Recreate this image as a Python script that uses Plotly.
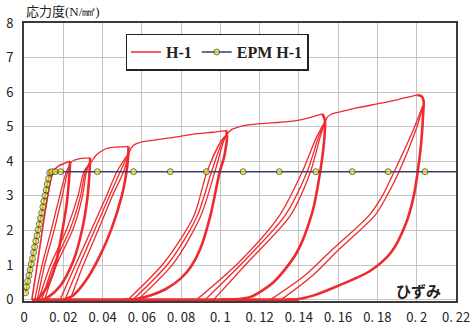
import plotly.graph_objects as go

RED = "#ee2a2e"
NAVY = "#3c3f6b"

# ---- H-1 : skeleton (loading) segments, strain / stress ----
skel_0_x = [0.0040, 0.0062, 0.0088, 0.0115, 0.0138, 0.0155, 0.0175, 0.0205, 0.0235]
skel_0_y = [0.0, 0.8, 1.8, 2.8, 3.5, 3.75, 3.86, 3.94, 4.0]
skel_1_x = [0.0232, 0.0240, 0.0255, 0.0280, 0.0310, 0.0337]
skel_1_y = [3.90, 3.97, 4.03, 4.07, 4.09, 4.10]
skel_2_x = [0.0338, 0.0348, 0.0362, 0.0380, 0.0420, 0.0460, 0.0500, 0.0532]
skel_2_y = [3.95, 4.02, 4.14, 4.24, 4.37, 4.41, 4.42, 4.43]
skel_3_x = [0.0535, 0.0548, 0.0565, 0.0592, 0.0643, 0.0770, 0.0881, 0.0960, 0.1030]
skel_3_y = [4.25, 4.40, 4.49, 4.55, 4.60, 4.70, 4.80, 4.84, 4.89]
skel_4_x = [0.1034, 0.1045, 0.1060, 0.1085, 0.1120, 0.1204, 0.1306, 0.1380, 0.1425, 0.1519]
skel_4_y = [4.78, 4.86, 4.93, 4.98, 5.03, 5.09, 5.13, 5.17, 5.22, 5.37]
skel_5_x = [0.1535, 0.1545, 0.1565, 0.1610, 0.1700, 0.1816, 0.1900, 0.2003]
skel_5_y = [5.15, 5.28, 5.36, 5.43, 5.55, 5.68, 5.78, 5.92]

# ---- H-1 : repeated reloading branches (per amplitude) ----
reload_a_y = [0.0, 1.0, 2.04, 3.0, 3.6, 3.9]
reload_a_x = [[0.0055, 0.0092, 0.0140, 0.0182, 0.0210, 0.0232],
              [0.0068, 0.0105, 0.0155, 0.0195, 0.0218, 0.0232]]
reload_b_y = [0.0, 1.0, 2.04, 3.0, 3.7, 3.95]
reload_b_x = [[0.0075, 0.0135, 0.0218, 0.0275, 0.0305, 0.0335],
              [0.0090, 0.0150, 0.0235, 0.0288, 0.0312, 0.0335],
              [0.0105, 0.0165, 0.0250, 0.0298, 0.0318, 0.0335]]
reload_c_y = [0.0, 1.0, 2.04, 3.0, 3.7, 4.25]
reload_c_x = [[0.0184, 0.0262, 0.0345, 0.0420, 0.0473, 0.0535],
              [0.0209, 0.0282, 0.0362, 0.0435, 0.0490, 0.0535],
              [0.0235, 0.0302, 0.0380, 0.0450, 0.0507, 0.0535]]
reload_d_y = [0.0, 1.08, 2.42, 3.7, 4.6, 4.78]
reload_d_x = [[0.0530, 0.0715, 0.0865, 0.0932, 0.1005, 0.1034],
              [0.0555, 0.0740, 0.0882, 0.0955, 0.1012, 0.1034],
              [0.0580, 0.0765, 0.0900, 0.0972, 0.1018, 0.1034]]
reload_e_y = [0.0, 1.08, 2.42, 3.7, 4.7, 5.15]
reload_e_x = [[0.0880, 0.1095, 0.1300, 0.1417, 0.1490, 0.1533],
              [0.0923, 0.1115, 0.1328, 0.1442, 0.1500, 0.1533],
              [0.0966, 0.1140, 0.1355, 0.1459, 0.1508, 0.1533]]
reload_f_y = [0.0, 0.7, 1.42, 2.42, 3.0, 3.7, 4.9, 5.6]
reload_f_x = [[0.1255, 0.1430, 0.1565, 0.1755, 0.1825, 0.1885, 0.1982, 0.2030],
              [0.1310, 0.1470, 0.1598, 0.1785, 0.1848, 0.1910, 0.1995, 0.2033]]

# ---- H-1 : unloading branches ----
unload_a_x = [0.0235, 0.0231, 0.0218, 0.0192, 0.0160, 0.0120, 0.0080, 0.0060]
unload_a_y = [4.0, 3.6, 2.8, 1.9, 1.0, 0.4, 0.08, 0.0]
unload_b_x = [0.0337, 0.0334, 0.0322, 0.0295, 0.0250, 0.0185, 0.0125, 0.0095]
unload_b_y = [4.1, 3.7, 2.9, 2.0, 1.1, 0.4, 0.08, 0.0]
unload_c_x = [0.0532, 0.0530, 0.0522, 0.0498, 0.0445, 0.0385, 0.0315, 0.0250, 0.0200]
unload_c_y = [4.43, 4.1, 3.7, 3.0, 2.04, 1.25, 0.55, 0.12, 0.0]
unload_d_x = [0.1030, 0.1034, 0.1028, 0.1018, 0.0997, 0.0949, 0.0898, 0.0850, 0.0796, 0.0720, 0.0643, 0.0570, 0.0510]
unload_d_y = [4.89, 4.7, 4.4, 4.1, 3.7, 2.42, 1.47, 0.95, 0.6, 0.3, 0.12, 0.02, 0.0]
unload_e_x = [0.1519, 0.1532, 0.1530, 0.1510, 0.1468, 0.1390, 0.1272, 0.1153, 0.1060, 0.1000]
unload_e_y = [5.37, 5.2, 4.7, 3.76, 2.52, 1.37, 0.51, 0.08, 0.005, 0.0]
unload_f_x = [0.2003, 0.2025, 0.2035, 0.2033, 0.2022, 0.2005, 0.1985, 0.1945, 0.1870, 0.1760, 0.1600, 0.1480, 0.1400, 0.1340]
unload_f_y = [5.92, 5.88, 5.75, 5.4, 4.5, 3.7, 3.0, 2.2, 1.37, 0.82, 0.40, 0.13, 0.02, 0.0]

# zero-stress line between cycles
rest_x = [0.0040, 0.1400]
rest_y = [0.0, 0.0]

# ---- EPM H-1 model ----
epm_x = [0.0008, 0.0013, 0.0019, 0.0025, 0.0031, 0.0037, 0.0043, 0.0049, 0.0054, 0.0060,
         0.0066, 0.0072, 0.0078, 0.0084, 0.0090, 0.0096, 0.0101, 0.0107, 0.0113, 0.0119,
         0.0125, 0.0131, 0.0141, 0.0158, 0.0187, 0.0374, 0.0558, 0.0745, 0.0929, 0.1116,
         0.1300, 0.1486, 0.1672, 0.1855, 0.2042, 0.2200]
epm_y = [0.20, 0.37, 0.53, 0.70, 0.86, 1.03, 1.19, 1.36, 1.52, 1.69,
         1.85, 2.02, 2.18, 2.35, 2.51, 2.68, 2.84, 3.01, 3.17, 3.34,
         3.50, 3.67, 3.70, 3.70, 3.70, 3.70, 3.70, 3.70, 3.70, 3.70,
         3.70, 3.70, 3.70, 3.70, 3.70, 3.70]

x_ticks = [0, 0.02, 0.04, 0.06, 0.08, 0.1, 0.12, 0.14, 0.16, 0.18, 0.2, 0.22]
x_tick_text = ["0", "0. 02", "0. 04", "0. 06", "0. 08", "0. 1", "0. 12", "0. 14",
               "0. 16", "0. 18", "0. 2", "0. 22"]

THIN = 1.3
THICK = 2.6

fig = go.Figure()


def red_line(xs, ys, width, show=False):
    fig.add_trace(go.Scatter(
        x=xs, y=ys, mode="lines", name="H-1", legendgroup="h1",
        showlegend=show, hoverinfo="skip",
        line=dict(color=RED, width=width, shape="spline", smoothing=0.8)))


red_line(skel_0_x, skel_0_y, 1.6, show=True)
for sx, sy in [(skel_1_x, skel_1_y), (skel_2_x, skel_2_y), (skel_3_x, skel_3_y),
               (skel_4_x, skel_4_y), (skel_5_x, skel_5_y)]:
    red_line(sx, sy, THIN)

for xs_list, ys in [(reload_a_x, reload_a_y), (reload_b_x, reload_b_y),
                    (reload_c_x, reload_c_y), (reload_d_x, reload_d_y),
                    (reload_e_x, reload_e_y), (reload_f_x, reload_f_y)]:
    for xs in xs_list:
        red_line(xs, ys, THIN)

for ux, uy in [(unload_a_x, unload_a_y), (unload_b_x, unload_b_y),
               (unload_c_x, unload_c_y), (unload_d_x, unload_d_y),
               (unload_e_x, unload_e_y), (unload_f_x, unload_f_y)]:
    red_line(ux, uy, THICK)

red_line(rest_x, rest_y, THICK)

marker_sizes = [6] * (len(epm_x) - 1) + [0]
fig.add_trace(go.Scatter(
    x=epm_x, y=epm_y, mode="lines+markers", name="EPM H-1", hoverinfo="skip",
    line=dict(color=NAVY, width=1.5),
    marker=dict(size=marker_sizes, color="#f2e41c", line=dict(color="#333333", width=1))))

axis_common = dict(
    showline=True, mirror=True, linecolor="#3a3a3a", linewidth=2,
    showgrid=True, gridcolor="#c4c4c4", gridwidth=1,
    zeroline=False, ticks="", automargin=False,
    tickfont=dict(family="Noto Sans CJK JP", size=13, color="#222222"),
)

fig.update_xaxes(range=[0, 0.22], tickvals=x_ticks, ticktext=x_tick_text,
                 ticklabelstandoff=3, ticklabeloverflow="allow", **axis_common)
fig.update_yaxes(range=[-0.04, 8], dtick=1, ticklabelstandoff=6, **axis_common)

fig.add_annotation(
    xref="paper", yref="paper", x=0, y=1, xanchor="left", yanchor="bottom",
    xshift=0, yshift=1, showarrow=False,
    text='応力度<span style="font-family:Liberation Serif">(N/㎟)</span>',
    font=dict(family="Noto Sans CJK JP", size=13, color="#222222"))

fig.add_annotation(
    xref="paper", yref="paper", x=0.970, y=0.036, xanchor="right", yanchor="middle",
    showarrow=False, text="ひずみ",
    font=dict(family="Noto Sans CJK JP", size=15, color="#222222", weight="bold"))

fig.update_layout(
    width=470, height=326,
    margin=dict(l=24, r=14, t=23, b=25, autoexpand=False),
    paper_bgcolor="white", plot_bgcolor="white",
    legend=dict(
        orientation="h", x=0.236, y=0.962, xanchor="left", yanchor="top",
        bgcolor="white", bordercolor="#222222", borderwidth=1.5,
        font=dict(family="Liberation Serif", size=16, color="#222222", weight="bold"),
        itemwidth=30,
    ),
)

fig.write_html("out.html")
